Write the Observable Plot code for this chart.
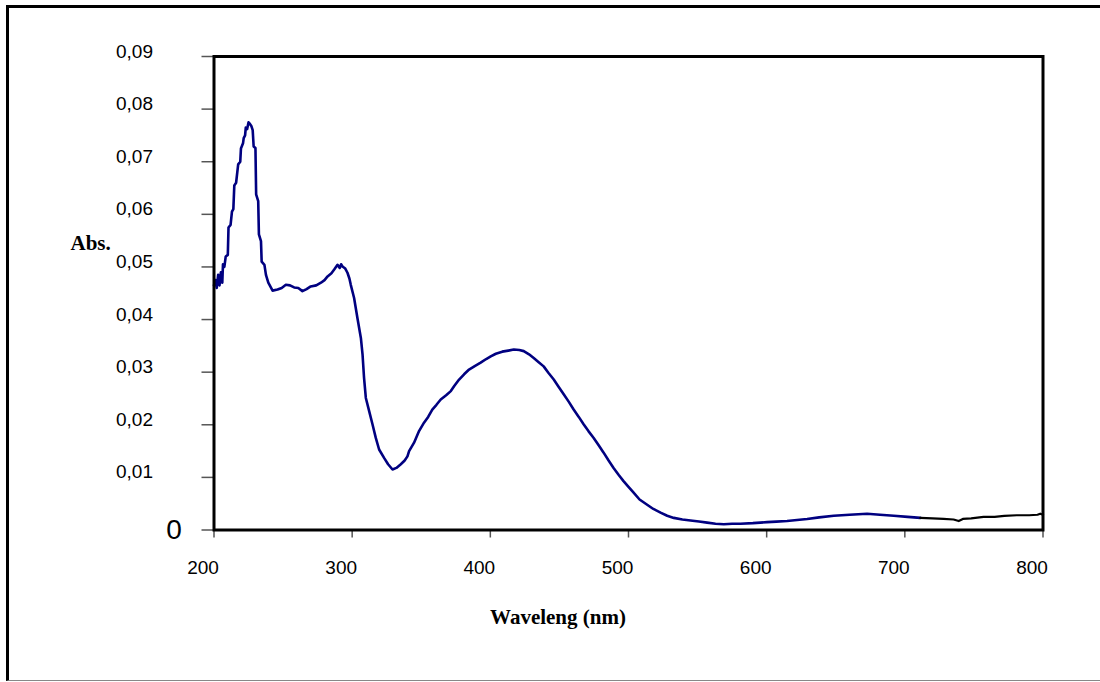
<!DOCTYPE html>
<html><head><meta charset="utf-8">
<script src="https://cdn.jsdelivr.net/npm/d3@7"></script>
<script src="https://cdn.jsdelivr.net/npm/@observablehq/plot@0.6"></script>
<style>
body{margin:0;background:#fff;}
#frame{position:absolute;left:6px;top:5px;width:1094px;height:676px;border-top:3px solid #000;border-left:3px solid #000;border-bottom:1px solid #888;box-sizing:border-box;}
#chart{position:absolute;left:0;top:0;}
</style></head><body>
<div id="frame"></div><div id="chart"></div>
<script>
// blue segment of the spectrum (nm, absorbance)
const blueWl = [200,201,202,203,204,205,206,206.5,207.5,208.5,210,210.5,212,213,214,214.7,216,217.5,219,219.5,221,221.5,222.5,223,224,225,226,227,228,228.7,230,230.5,232,232.5,234,234.5,236.5,237.6,239.3,242.4,246,249,252,255,258,261,264,267,270,274,277.4,280,282.2,285,287,289.4,291,292,293,295,296.6,298,299,301.4,303.8,306.3,307.5,308.6,309.9,312.3,314.7,317.1,319.5,323.1,326,329.2,332,335.2,338,340,341.2,344.8,348.4,352,355,358,361,364.1,368,371.4,374,377.4,381,384.6,389,393,397,400.3,404,408.6,413,417,421,424.2,428,431.4,435,438.6,442,445.9,449.5,453.1,456.7,460.3,464,467.5,471,474.8,478.4,482,485.6,489.2,492.8,496.4,500,503.7,508,513.5,518,523.2,528,532.8,539,544.9,551,556.9,563,569,575,581,590,600.3,607,614.8,622,629.3,638,648.6,660,672.7,682,692,702,711.2];
const blueAbs = [0.0465,0.0475,0.046,0.0485,0.0465,0.049,0.047,0.0505,0.050,0.052,0.0523,0.0575,0.058,0.0605,0.061,0.0655,0.066,0.0695,0.070,0.0725,0.0735,0.0745,0.075,0.0765,0.0762,0.0775,0.0772,0.0768,0.076,0.0729,0.0726,0.0638,0.0625,0.0562,0.0549,0.051,0.0504,0.0485,0.047,0.0455,0.0457,0.046,0.0466,0.0465,0.0461,0.046,0.0454,0.0458,0.0463,0.0465,0.047,0.0475,0.0482,0.0488,0.0495,0.0504,0.0498,0.0505,0.0501,0.0497,0.0489,0.0478,0.0466,0.0441,0.0403,0.0365,0.0334,0.0289,0.0251,0.0226,0.0201,0.0175,0.0153,0.0137,0.0125,0.0115,0.0118,0.0125,0.0132,0.014,0.015,0.0166,0.0188,0.0204,0.0215,0.0229,0.0238,0.0248,0.0256,0.0264,0.0274,0.0286,0.0296,0.0305,0.0312,0.0318,0.0325,0.033,0.0335,0.0339,0.0341,0.0343,0.0342,0.034,0.0334,0.0327,0.0319,0.0311,0.0299,0.0286,0.0272,0.0258,0.0244,0.0229,0.0215,0.0201,0.0188,0.0175,0.0161,0.0147,0.0132,0.0118,0.0105,0.0093,0.0082,0.0071,0.0058,0.0048,0.0040,0.0033,0.0027,0.0023,0.002,0.0018,0.0016,0.0014,0.0012,0.0011,0.0012,0.0012,0.0013,0.0015,0.0016,0.0017,0.0019,0.0021,0.0024,0.0027,0.0029,0.0031,0.0029,0.0027,0.0025,0.0023];
// black segment
const blackWl = [711.2,720,728,735.3,739,742,748,757,765,772,781,790,796,798,800];
const blackAbs = [0.0023,0.0022,0.0021,0.002,0.0017,0.0021,0.0022,0.0025,0.0025,0.0027,0.0028,0.0028,0.0029,0.0031,0.0029];

const yTicks = [0,0.01,0.02,0.03,0.04,0.05,0.06,0.07,0.08,0.09];
const yLabelTicks = [0.01,0.02,0.03,0.04,0.05,0.06,0.07,0.08,0.09];
const yLabels = ["0,01","0,02","0,03","0,04","0,05","0,06","0,07","0,08","0,09"];
const xTicks = [200,300,400,500,600,700,800];
const xLabels = ["200","300","400","500","600","700","800"];

const blue = d3.zip(blueWl, blueAbs).map(([x,y]) => ({x,y}));
const black = d3.zip(blackWl, blackAbs).map(([x,y]) => ({x,y}));
const yRows = yLabelTicks.map((v,i) => ({v, t: yLabels[i]}));
const xRows = xTicks.map((v,i) => ({v, t: xLabels[i]}));

const chart = Plot.plot({
  width: 1100, height: 682,
  marginLeft: 213.5, marginRight: 57.5, marginTop: 56, marginBottom: 152.5,
  x: {domain: [200, 800]},
  y: {domain: [0, 0.09]},
  style: {fontFamily: "'Liberation Sans', Arial, sans-serif", background: "transparent", color: "#000"},
  marks: [
    Plot.axisY({ticks: yTicks, tickSize: 12, tickFormat: () => "", stroke: "#555", strokeWidth: 1.5, label: null}),
    Plot.axisX({ticks: xTicks, tickSize: 8, tickFormat: () => "", stroke: "#555", strokeWidth: 1.5, label: null}),
    Plot.text(yRows, {x: () => 200, y: "v", text: "t", dx: -61, dy: -5, textAnchor: "end", fontSize: 19, fill: "#000"}),
    Plot.text([0], {x: () => 200, y: d => d, text: () => "0", dx: -40, fontSize: 28, fill: "#000"}),
    Plot.text(xRows, {x: "v", y: () => 0, text: "t", dx: -11, dy: 38, fontSize: 19, fill: "#000"}),
    Plot.line(blue, {x: "x", y: "y", stroke: "#000080", strokeWidth: 2.6}),
    Plot.line(black, {x: "x", y: "y", stroke: "#000", strokeWidth: 2.2}),
    Plot.frame({stroke: "#000", strokeWidth: 3}),
    Plot.text(["Abs."], {frameAnchor: "left", text: d => d, dx: -143.5, dy: -50, fontSize: 21, fontWeight: "bold", fontFamily: "'Liberation Serif', 'Times New Roman', serif", fill: "#000"}),
    Plot.text(["Waveleng (nm)"], {frameAnchor: "bottom", text: d => d, dx: -70.5, dy: 93.5, fontSize: 21, fontWeight: "bold", fontFamily: "'Liberation Serif', 'Times New Roman', serif", fill: "#000"})
  ]
});
document.getElementById("chart").appendChild(chart);
</script>
</body></html>
